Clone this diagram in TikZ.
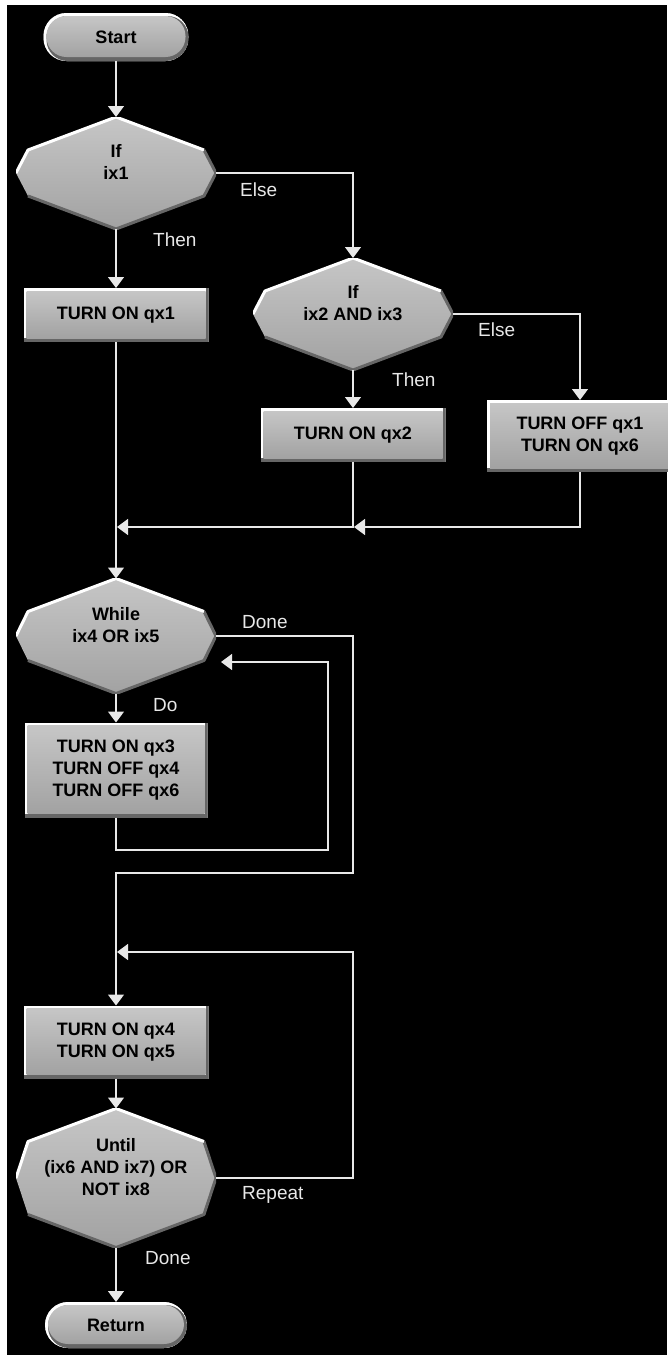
\documentclass[tikz,border=0pt]{standalone}
\usepackage{fontspec}
\setmainfont{Liberation Sans}
\usepackage{xcolor}
\usetikzlibrary{positioning, calc, arrows.meta}

\definecolor{faceTop}{HTML}{C6C6C6}
\definecolor{faceBot}{HTML}{A2A2A2}
\definecolor{edgeDark}{HTML}{666666}
\definecolor{lineCol}{HTML}{E8E8E8}

\newcommand{\flowbox}{\bfseries\fontsize{18}{22}\selectfont}
\newcommand{\flowlbl}{\fontsize{19}{22}\selectfont}

\tikzset{
  flow/.style={draw=lineCol, line width=1.3pt, -{Triangle[width=16pt,length=11pt]}},
  lbl/.style={font=\flowlbl, text=lineCol, inner sep=0pt, anchor=west, text height=13.5pt, text depth=0pt},
  terminal/.style={rectangle, rounded corners=23pt, inner sep=0pt, outer sep=0pt,
    minimum width=145pt, minimum height=48pt, font=\flowbox, fill=faceBot,
    path picture={
      \fill[white] (path picture bounding box.south west) rectangle (path picture bounding box.north east);
      \fill[edgeDark, rounded corners=21pt] ([xshift=3pt]path picture bounding box.south west)
        rectangle ([yshift=-3pt]path picture bounding box.north east);
      \shade[top color=faceTop, bottom color=faceBot, rounded corners=20pt]
        ([shift={(3pt,4pt)}]path picture bounding box.south west)
        rectangle ([shift={(-3pt,-3pt)}]path picture bounding box.north east);
    }},
  action/.style={rectangle, inner sep=0pt, outer sep=0pt, minimum width=185pt,
    minimum height=#1, align=center, font=\flowbox, fill=faceBot,
    path picture={
      \fill[edgeDark] (path picture bounding box.south west) rectangle (path picture bounding box.north east);
      \fill[white] ([yshift=4pt]path picture bounding box.south west)
        rectangle ([xshift=-3pt]path picture bounding box.north east);
      \shade[top color=faceTop, bottom color=faceBot]
        ([shift={(3pt,4pt)}]path picture bounding box.south west)
        rectangle ([shift={(-3pt,-3pt)}]path picture bounding box.north east);
    }},
  action/.default=54pt,
  decision/.style={rectangle, inner sep=0pt, outer sep=0pt, minimum width=200pt,
    minimum height=#1, align=center, font=\flowbox, text depth=22pt,
    path picture={
      \shade[top color=faceTop, bottom color=faceBot]
        (path picture bounding box.north)
        -- ([shift={(-12pt,-33pt)}]path picture bounding box.north east)
        -- (path picture bounding box.east)
        -- ([shift={(-12pt,33pt)}]path picture bounding box.south east)
        -- (path picture bounding box.south)
        -- ([shift={(12pt,33pt)}]path picture bounding box.south west)
        -- (path picture bounding box.west)
        -- ([shift={(12pt,-33pt)}]path picture bounding box.north west) -- cycle;
      \draw[edgeDark, line width=3pt, line join=round]
        ([shift={(-12pt,-33pt)}]path picture bounding box.north east)
        -- (path picture bounding box.east)
        -- ([shift={(-12pt,33pt)}]path picture bounding box.south east)
        -- (path picture bounding box.south)
        -- ([shift={(12pt,33pt)}]path picture bounding box.south west);
      \draw[white, line width=3pt, line join=round]
        (path picture bounding box.west)
        -- ([shift={(12pt,-33pt)}]path picture bounding box.north west)
        -- (path picture bounding box.north)
        -- ([shift={(-12pt,-33pt)}]path picture bounding box.north east);
    }},
  decision/.default=112pt
}

\begin{document}
\begin{tikzpicture}[x=1pt, y=-1pt]

  % ===================================================
  % Frame
  % ===================================================
  \useasboundingbox (0,0) rectangle (667,1355);
  \fill[white] (0,0) rectangle (667,1355);
  \fill[black] (7,5) rectangle (667,1355);

  % ===================================================
  % If / Else branch
  % ===================================================
  \node[terminal] (start) at (116,37) {Start};
  \node[decision] (if1) at (116,173) {If\\ix1};
  \node[action] (on1) at (116,315) {TURN ON qx1};
  \node[decision] (if2) at (353,314) {If\\ix2 AND ix3};
  \node[action] (on2) at (353,435) {TURN ON qx2};
  \node[action=72pt, minimum width=186pt] (off1) at (580,436) {TURN OFF qx1\\TURN ON qx6};

  \coordinate (m1) at (117,527);
  \coordinate (m2) at (354,527);

  \draw[flow] (start) -- (if1);
  \draw[flow] (if1) -- (on1);
  \draw[flow] (if1) -| (if2);
  \draw[flow] (if2) -- (on2);
  \draw[flow] (if2) -| (off1);
  \draw[flow] (off1) |- (m2);
  \draw[flow] (on2) |- (m1);

  \node[lbl] (lThen1) at (153,240) {Then};
  \node[lbl] (lElse1) at (240,190) {Else};
  \node[lbl] (lThen2) at (392,380) {Then};
  \node[lbl] (lElse2) at (478,330) {Else};

  % ===================================================
  % While loop
  % ===================================================
  \node[decision=115pt] (wh) at (116,636) {While\\ix4 OR ix5};
  \node[action=95pt, minimum width=183pt] (dobox) at (116,770) {TURN ON qx3\\TURN OFF qx4\\TURN OFF qx6};

  \coordinate (lpB) at (328,850);
  \coordinate (lpE) at (221,662);
  \coordinate (dnB) at (353,873);

  \draw[flow] (on1) -- (wh);
  \draw[flow] (wh) -- (dobox);
  \draw[flow] (dobox) |- (lpB) |- (lpE);

  \node[lbl] (lDone1) at (242,622) {Done};
  \node[lbl] (lDo) at (153,705) {Do};

  % ===================================================
  % Repeat / Until loop
  % ===================================================
  \node[action=73pt] (on4) at (116,1042) {TURN ON qx4\\TURN ON qx5};
  \node[decision=139pt] (until) at (116,1178) {Until\\(ix6 AND ix7) OR\\NOT ix8};
  \node[terminal, minimum width=142pt, minimum height=46pt] (ret) at (116,1325) {Return};

  \coordinate (rpB) at (353,952);
  \coordinate (rpE) at (117,952);

  \draw[flow] (wh) -| (dnB) -| (on4);
  \draw[flow] (on4) -- (until);
  \draw[flow] (until) -| (rpB) -- (rpE);
  \draw[flow] (until) -- (ret);

  \node[lbl] (lRepeat) at (242,1193) {Repeat};
  \node[lbl] (lDone2) at (145,1258) {Done};

\end{tikzpicture}
\end{document}
